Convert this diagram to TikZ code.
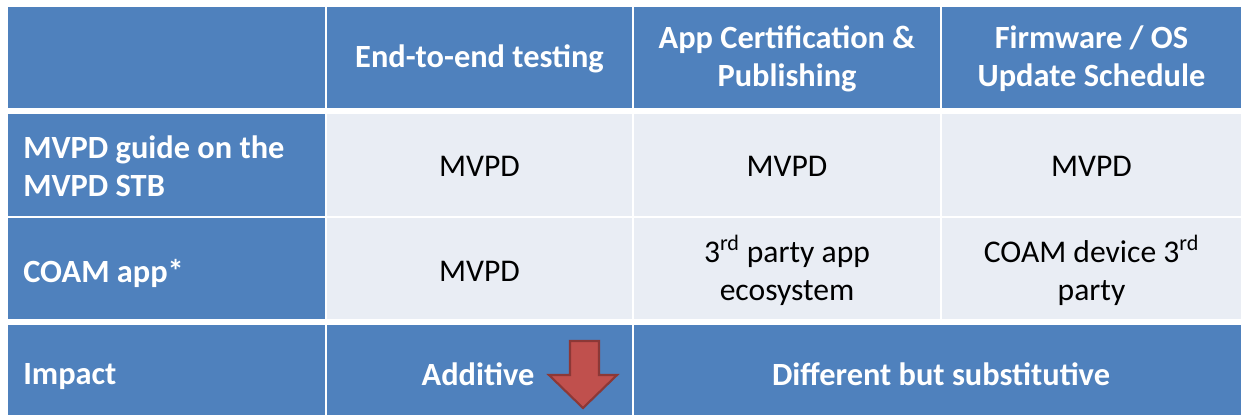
\documentclass[tikz,border=0pt]{standalone}
\usepackage{fontspec}
\setmainfont{Carlito}
\definecolor{hdrblue}{RGB}{79,129,189}
\definecolor{bodylight}{RGB}{233,237,244}
\definecolor{arrowred}{RGB}{192,80,77}
\definecolor{arrowedge}{RGB}{140,56,54}
\tikzset{
  hcell/.style={fill=hdrblue},
  bcell/.style={fill=bodylight},
  htext/.style={text=white, font=\fontsize{24.3}{28.3}\selectfont\bfseries, align=center, inner sep=0pt},
  ltext/.style={text=white, font=\fontsize{24.3}{28.3}\selectfont\bfseries, align=left, anchor=west, inner sep=0pt},
  btext/.style={text=black, font=\fontsize{23.7}{28.3}\selectfont, align=center, inner sep=0pt},
}
\begin{document}
\begin{tikzpicture}[x=0.75pt,y=-0.75pt]
\useasboundingbox (0,0) rectangle (1241,414);
\begin{scope}
\clip (0,0) rectangle (1241,414);
% header row
\fill[hcell] (8,7) rectangle (325,108);
\fill[hcell] (327,7) rectangle (632,108);
\fill[hcell] (634,7) rectangle (940,108);
\fill[hcell] (942,7) rectangle (1241,108);
% row: MVPD guide
\fill[hcell] (8,114) rectangle (325,216);
\fill[bcell] (327,114) rectangle (632,216);
\fill[bcell] (634,114) rectangle (940,216);
\fill[bcell] (942,114) rectangle (1241,216);
% row: COAM app
\fill[hcell] (8,218) rectangle (325,319);
\fill[bcell] (327,218) rectangle (632,319);
\fill[bcell] (634,218) rectangle (940,319);
\fill[bcell] (942,218) rectangle (1241,319);
% row: impact (last two columns merged)
\fill[hcell] (8,325) rectangle (325,430);
\fill[hcell] (327,325) rectangle (632,430);
\fill[hcell] (634,325) rectangle (1241,430);
\end{scope}

% header texts
\node[htext] (h2) at (479.5,59) {End-to-end testing};
\node[htext] (h3) at (787,59) {App Certification \&\\Publishing};
\node[htext] (h4) at (1091.5,59) {Firmware / OS\\Update Schedule};

% row labels
\node[ltext] (r1) at (23,166) {MVPD guide on the\\MVPD STB};
\node[ltext] (r2) at (23,273) {COAM app*};
\node[ltext] (r3) at (23,377) {Impact};

% body cells
\node[btext] (c11) at (479.5,166) {MVPD};
\node[btext] (c12) at (787,166) {MVPD};
\node[btext] (c13) at (1091.5,166) {MVPD};
\node[btext] (c21) at (479.5,271) {MVPD};
\node[btext] (c22) at (787,270) {3\textsuperscript{rd} party app\\ecosystem};
\node[btext] (c23) at (1091.5,270) {COAM device 3\textsuperscript{rd}\\party};

% impact row
\node[htext] (i1) at (478,374) {Additive};
\node[htext] (i2) at (941,374) {Different but substitutive};

% downward block arrow
\filldraw[fill=arrowred, draw=arrowedge, line width=1.6pt, line join=miter]
  (570,341) -- (599,341) -- (599,375) -- (617,375) -- (583,408)
  -- (549,375) -- (570,375) -- cycle;
\end{tikzpicture}
\end{document}
